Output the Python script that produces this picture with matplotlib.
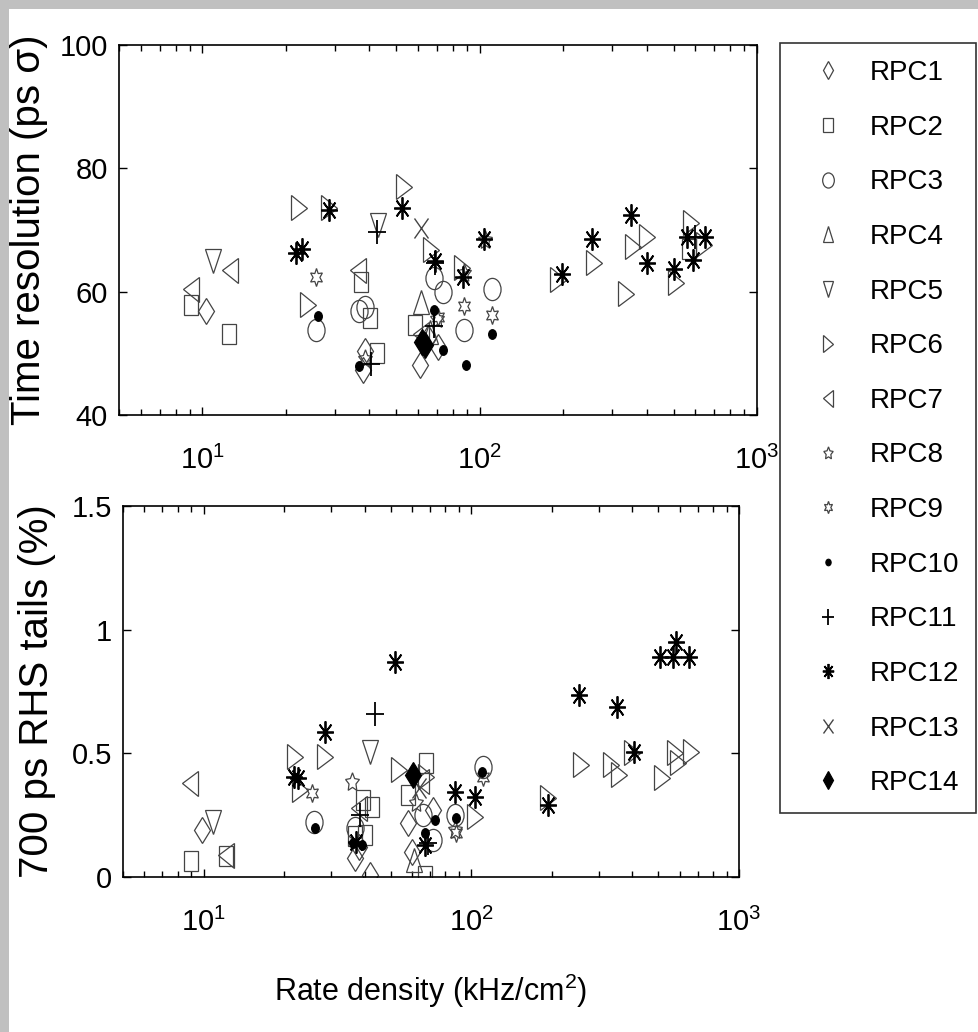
import matplotlib
matplotlib.use("Agg")
import matplotlib.pyplot as plt
from matplotlib.markers import MarkerStyle
from matplotlib.transforms import Affine2D
from matplotlib.patches import Rectangle
from matplotlib import font_manager

# ---------------- data ----------------
labels = ["RPC1", "RPC2", "RPC3", "RPC4", "RPC5", "RPC6", "RPC7",
          "RPC8", "RPC9", "RPC10", "RPC11", "RPC12", "RPC13", "RPC14"]

# top panel: time resolution (ps sigma) vs rate density (kHz/cm2)
rpc1_top_x = [10.3, 37.8, 60.7, 71, 38.5, 65]
rpc1_top_y = [56.8, 47.3, 48.1, 51.1, 50.3, 52.5]
rpc2_top_x = [9.1, 12.5, 37.4, 40.2, 42.7, 58.4, 570]
rpc2_top_y = [57.8, 53.2, 61.5, 55.7, 50.0, 54.6, 67.0]
rpc3_top_x = [25.7, 36.7, 68.5, 74, 87.6, 111, 38.5]
rpc3_top_y = [53.8, 56.8, 62.2, 60.0, 53.8, 60.5, 57.5]
rpc4_top_x = [61.6, 66]
rpc4_top_y = [58.4, 53.5]
rpc5_top_x = [10.9, 43]
rpc5_top_y = [64.9, 70.8]
rpc6_top_x = [22.3, 28.6, 53.3, 66.8, 24, 86, 192, 259, 357, 400, 336, 511, 579, 643]
rpc6_top_y = [73.5, 73.5, 77.0, 66.8, 57.8, 63.8, 61.9, 64.6, 67.3, 68.9, 59.7, 61.4, 71.1, 67.6]
rpc7_top_x = [9.1, 12.6, 36.5, 61.6]
rpc7_top_y = [60.5, 63.5, 63.5, 53.2]
rpc8_top_x = [104.5, 87.5, 70, 38.5]
rpc8_top_y = [68.4, 63.0, 55.5, 49.0]
rpc9_top_x = [25.7, 87.6, 111, 71]
rpc9_top_y = [62.3, 57.6, 56.2, 55.9]
rpc10_top_x = [26, 36.7, 68.4, 74, 89, 111, 62]
rpc10_top_y = [56.0, 48.0, 57.1, 50.5, 48.1, 53.1, 51.5]
rpc11_top_x = [42.7, 69, 68.5, 40.5, 600]
rpc11_top_y = [69.6, 64.7, 54.5, 48.2, 68.9]
rpc12_top_x = [21.7, 22.9, 28.6, 52.5, 68.9, 87, 103.5, 198, 254.8, 352, 401, 500, 560, 588, 649]
rpc12_top_y = [66.2, 67.0, 73.2, 73.5, 64.9, 62.4, 68.5, 62.8, 68.5, 72.5, 64.7, 63.6, 68.9, 65.1, 68.9]
rpc13_top_x = [61.6]
rpc13_top_y = [70.3]
rpc14_top_x = [61.9, 63.7]
rpc14_top_y = [51.8, 51.4]

# bottom panel: 700 ps RHS tails (%) vs rate density
rpc1_bot_x = [9.9, 41.7, 36.8, 57.9, 72.1, 38, 60]
rpc1_bot_y = [0.19, 0.01, 0.077, 0.218, 0.271, 0.12, 0.10]
rpc2_bot_x = [9.0, 12.1, 39.5, 42.5, 36.8, 67.7, 57.9, 67, 40]
rpc2_bot_y = [0.063, 0.083, 0.312, 0.285, 0.164, 0.459, 0.332, 0.003, 0.17]
rpc3_bot_x = [25.8, 36.8, 86.6, 110.5, 72, 66]
rpc3_bot_y = [0.224, 0.197, 0.251, 0.446, 0.15, 0.25]
rpc4_bot_x = [61]
rpc4_bot_y = [0.07]
rpc5_bot_x = [10.8, 41.7]
rpc5_bot_y = [0.224, 0.506]
rpc6_bot_x = [21.9, 28.4, 22.9, 53.9, 67.7, 103.6, 194, 258, 332, 355, 398, 514, 577, 590, 664]
rpc6_bot_y = [0.486, 0.486, 0.352, 0.432, 0.405, 0.244, 0.318, 0.453, 0.453, 0.412, 0.50, 0.399, 0.50, 0.459, 0.506]
rpc7_bot_x = [8.9, 12.1, 38.1, 65]
rpc7_bot_y = [0.379, 0.09, 0.278, 0.39]
rpc8_bot_x = [35.8, 62.2, 86.6]
rpc8_bot_y = [0.385, 0.298, 0.19]
rpc9_bot_x = [25.5, 87.9, 111]
rpc9_bot_y = [0.338, 0.177, 0.405]
rpc10_bot_x = [26, 36, 67, 73.5, 88, 109.6, 39]
rpc10_bot_y = [0.197, 0.137, 0.177, 0.231, 0.238, 0.426, 0.13]
rpc11_bot_x = [43.7, 38.5, 68.9]
rpc11_bot_y = [0.661, 0.25, 0.137]
rpc12_bot_x = [51.9, 28.4, 21.7, 22.6, 86.6, 103, 194, 253, 351, 405, 505, 569, 583, 650, 67, 37]
rpc12_bot_y = [0.869, 0.587, 0.406, 0.40, 0.345, 0.325, 0.291, 0.735, 0.688, 0.506, 0.889, 0.889, 0.949, 0.889, 0.13, 0.14]
rpc13_bot_x = [64]
rpc13_bot_y = [0.36]
rpc14_bot_x = [60.8]
rpc14_bot_y = [0.412]

top_x = [rpc1_top_x, rpc2_top_x, rpc3_top_x, rpc4_top_x, rpc5_top_x, rpc6_top_x, rpc7_top_x,
         rpc8_top_x, rpc9_top_x, rpc10_top_x, rpc11_top_x, rpc12_top_x, rpc13_top_x, rpc14_top_x]
top_y = [rpc1_top_y, rpc2_top_y, rpc3_top_y, rpc4_top_y, rpc5_top_y, rpc6_top_y, rpc7_top_y,
         rpc8_top_y, rpc9_top_y, rpc10_top_y, rpc11_top_y, rpc12_top_y, rpc13_top_y, rpc14_top_y]
bot_x = [rpc1_bot_x, rpc2_bot_x, rpc3_bot_x, rpc4_bot_x, rpc5_bot_x, rpc6_bot_x, rpc7_bot_x,
         rpc8_bot_x, rpc9_bot_x, rpc10_bot_x, rpc11_bot_x, rpc12_bot_x, rpc13_bot_x, rpc14_bot_x]
bot_y = [rpc1_bot_y, rpc2_bot_y, rpc3_bot_y, rpc4_bot_y, rpc5_bot_y, rpc6_bot_y, rpc7_bot_y,
         rpc8_bot_y, rpc9_bot_y, rpc10_bot_y, rpc11_bot_y, rpc12_bot_y, rpc13_bot_y, rpc14_bot_y]

# ---------------- styles ----------------
installed = {f.name for f in font_manager.fontManager.ttflist}
FONT = "Liberation Sans Narrow" if "Liberation Sans Narrow" in installed else "Liberation Sans"
plt.rcParams["font.family"] = [FONT, "DejaVu Sans"]
plt.rcParams["mathtext.fontset"] = "custom"
plt.rcParams["mathtext.rm"] = FONT
plt.rcParams["mathtext.it"] = FONT

def squeeze(m, sx):
    return MarkerStyle(m, transform=Affine2D().scale(sx, 1.0))

GREY = "#444444"
# (marker, size, edgecolor, filled, linewidth)
styles = [
    (squeeze("D", 0.62), 13, GREY, False, 0.9),
    (squeeze("s", 0.72), 15, GREY, False, 0.9),
    (squeeze("o", 0.77), 16, GREY, False, 0.9),
    (squeeze("^", 0.65), 17, GREY, False, 0.9),
    (squeeze("v", 0.65), 17, GREY, False, 0.9),
    (squeeze(">", 0.62), 18, GREY, False, 0.9),
    (squeeze("<", 0.62), 18, GREY, False, 0.9),
    (squeeze((5, 1, 0), 0.75), 14, GREY, False, 0.9),
    (squeeze((6, 1, 0), 0.75), 13, GREY, False, 0.9),
    (squeeze("o", 0.8), 7, "black", True, 0.8),
    (squeeze("+", 0.75), 17, "black", False, 1.3),
    (squeeze((8, 2, 0), 0.75), 16, "black", False, 1.3),
    (squeeze("x", 0.75), 14, GREY, False, 1.0),
    (squeeze("D", 0.62), 13, "black", True, 0.9),
]

W, H = 979, 1032
fig = plt.figure(figsize=(W / 100, H / 100), dpi=100, facecolor="white")

# grey frame strips (top and left)
fig.patches.append(Rectangle((0, 1 - 9 / H), 1, 9 / H, transform=fig.transFigure,
                             facecolor="#c0c0c0", edgecolor="none", zorder=-10))
fig.patches.append(Rectangle((0, 0), 9 / W, 1, transform=fig.transFigure,
                             facecolor="#c0c0c0", edgecolor="none", zorder=-10))

ax1 = fig.add_axes([119 / W, 1 - 415 / H, (757 - 119) / W, (415 - 45) / H])
ax2 = fig.add_axes([123 / W, 1 - 877 / H, (739 - 123) / W, (877 - 506) / H])

TICK_FS = 21
for ax, xs, ys in ((ax1, top_x, top_y), (ax2, bot_x, bot_y)):
    for lab, st, x, y in zip(labels, styles, xs, ys):
        m, ms, ec, filled, lw = st
        ax.plot(x, y, linestyle="none", marker=m, markersize=ms,
                markeredgecolor=ec, markerfacecolor=(ec if filled else "none"),
                markeredgewidth=lw, label=lab)
    ax.set_xscale("log")
    ax.set_xlim(5, 1000)
    ax.tick_params(which="both", direction="in", top=True, right=True,
                   labelsize=TICK_FS, width=1.0)
    ax.tick_params(which="major", length=6)
    ax.tick_params(which="minor", length=4)
    ax.tick_params(axis="y", which="major", pad=8)
    ax.tick_params(axis="x", which="major", pad=22)
    for s in ax.spines.values():
        s.set_linewidth(1.2)

ax1.set_ylim(40, 100)
ax1.set_yticks([40, 60, 80, 100])
ax2.set_ylim(0, 1.5)
ax2.set_yticks([0, 0.5, 1, 1.5])
ax2.set_yticklabels(["0", "0.5", "1", "1.5"])

ax1.set_ylabel("Time resolution (ps σ)", fontsize=29)
ax2.set_ylabel("700 ps RHS tails (%)", fontsize=29)
ax1.yaxis.set_label_coords(-0.112, 0.5)
ax2.yaxis.set_label_coords(-0.108, 0.5)
ax2.set_xlabel("Rate density (kHz/cm$^2$)", fontsize=22)
ax2.xaxis.set_label_coords(0.5, -0.255)

FS_LEG = 20
handles, labs = ax1.get_legend_handles_labels()
leg = fig.legend(handles, labs, loc="upper left",
                 bbox_to_anchor=(780 / W, 1 - 43 / H), bbox_transform=fig.transFigure,
                 fontsize=FS_LEG, markerscale=0.68, frameon=True, fancybox=False,
                 edgecolor="black", borderpad=0.62, handlelength=2.2,
                 handletextpad=0.4, labelspacing=1.03, borderaxespad=0)
leg.get_frame().set_linewidth(1.2)

fig.savefig("out.png", dpi=100, facecolor="white")
